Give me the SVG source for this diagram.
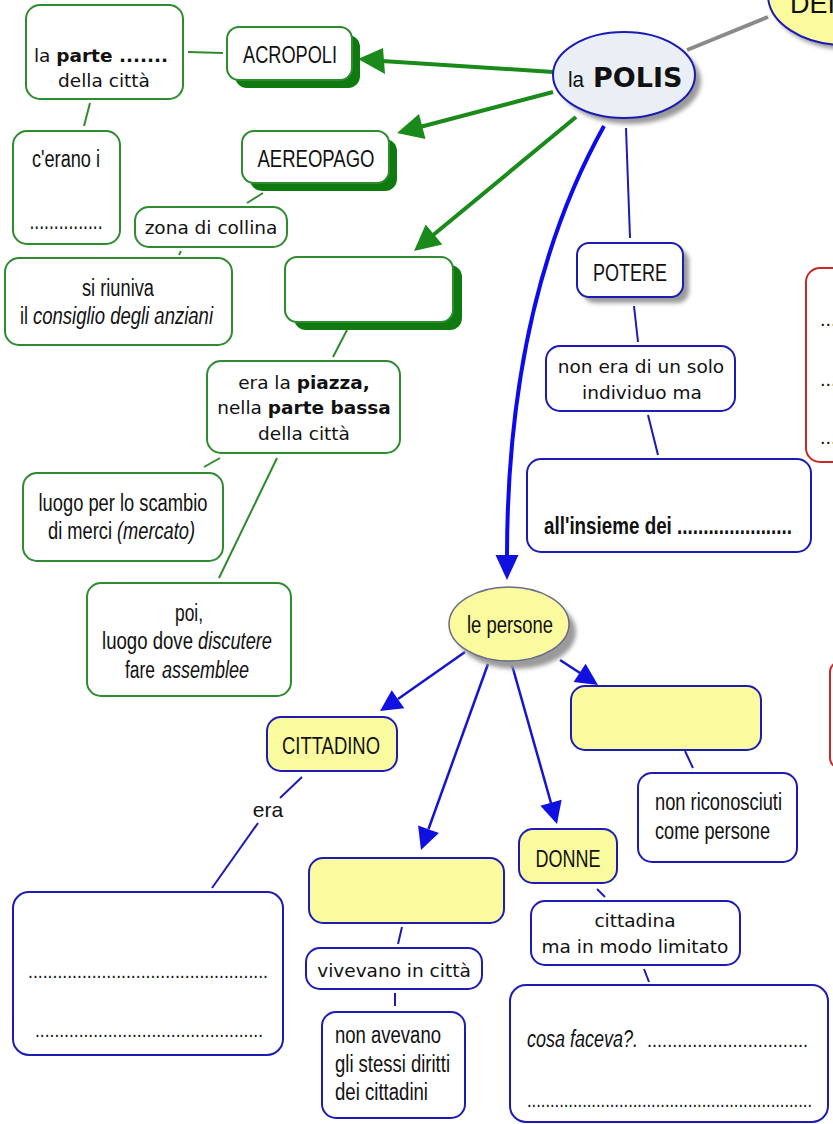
<svg xmlns="http://www.w3.org/2000/svg" width="833" height="1124" viewBox="0 0 833 1124">
<defs>
<style>
.gb{fill:#fff;stroke:#2e8b2e;stroke-width:2}
.bb{fill:#fff;stroke:#1c1cb4;stroke-width:2}
.yb{fill:#fafa9e;stroke:#1c1cb4;stroke-width:2}
.rb{fill:#fff;stroke:#c82828;stroke-width:2}
.gs{fill:#0f7a0f}
.sh{fill:#9a9a9a}
.n{font-family:"Liberation Sans",Arial,sans-serif;font-size:23px;fill:#111}
.i{font-style:italic}
.v{font-family:"DejaVu Sans",Verdana,sans-serif;font-size:18.5px;fill:#111}
.gl{stroke:#2e8b2e;stroke-width:2;fill:none}
.ga{stroke:#1a8a1a;stroke-width:4;fill:none}
.gh{fill:#1a8a1a}
.bl{stroke:#1c1cb4;stroke-width:2;fill:none}
.ba{stroke:#1515d0;stroke-width:2.5;fill:none}
.bh{fill:#1010e0}
</style>
<filter id="blur" x="-20%" y="-20%" width="140%" height="140%"><feGaussianBlur stdDeviation="2"/></filter>
</defs>

<g id="connectors">
<line x1="687" y1="50" x2="768" y2="17" stroke="#8a8a8a" stroke-width="4"/>
<line class="gl" x1="188" y1="52" x2="223" y2="53"/>
<line class="gl" x1="90" y1="103" x2="84" y2="126"/>
<line class="gl" x1="247" y1="203" x2="263" y2="193"/>
<line class="gl" x1="179" y1="255" x2="181" y2="251"/>
<line class="gl" x1="347" y1="330" x2="333" y2="357"/>
<line class="gl" x1="220" y1="458" x2="204" y2="467"/>
<line class="gl" x1="277" y1="458" x2="219" y2="578"/>
<line class="ga" x1="553" y1="72" x2="382" y2="61"/>
<polygon class="gh" points="358,59 383,48 385,74"/>
<line class="ga" x1="553" y1="92" x2="420" y2="127"/>
<polygon class="gh" points="397,133 419,114 425.5,139"/>
<line class="ga" x1="576" y1="117" x2="432" y2="236"/>
<polygon class="gh" points="414,251 425.7,224.4 442.3,244.4"/>
<line class="bl" x1="626" y1="128" x2="630" y2="238"/>
<line class="bl" x1="634" y1="306" x2="638" y2="342"/>
<line class="bl" x1="648" y1="415" x2="658" y2="455"/>
<path d="M604,126 Q507,300 507,557" stroke="#0b0bee" stroke-width="4" fill="none"/>
<polygon class="bh" points="507,580 495.5,555 518.5,555"/>
<line class="ba" x1="465" y1="652" x2="398" y2="699"/>
<polygon class="bh" points="380,711 391.7,690.3 404.3,708.3"/>
<line class="ba" x1="488" y1="664" x2="428.5" y2="829"/>
<polygon class="bh" points="421,850 418.1,825.6 438.9,833"/>
<line class="ba" x1="512" y1="665" x2="551" y2="803"/>
<polygon class="bh" points="557,824 540.4,805.8 561.6,799.8"/>
<line class="ba" x1="560" y1="660" x2="580" y2="673"/>
<polygon class="bh" points="598,685 573.6,682.1 585.6,663.7"/>
<line class="bl" x1="302" y1="777" x2="280" y2="798"/>
<line class="bl" x1="258" y1="823" x2="212" y2="888"/>
<text class="n" x="268" y="817" text-anchor="middle" style="font-size:21px">era</text>
<line class="bl" x1="402" y1="927" x2="398" y2="944"/>
<line class="bl" x1="395" y1="993" x2="395" y2="1006"/>
<line class="bl" x1="685" y1="751" x2="693" y2="768"/>
<line class="bl" x1="597" y1="889" x2="605" y2="897"/>
<line class="bl" x1="644" y1="969" x2="649" y2="982"/>
</g>

<g id="dei">
<ellipse class="sh" cx="849" cy="0" rx="77" ry="50" filter="url(#blur)"/>
<ellipse cx="845" cy="-5" rx="77" ry="50" fill="#fafa9e" stroke="#1c1cb4" stroke-width="2"/>
<text class="n" x="790" y="13" style="font-size:27px">DEI</text>
</g>

<g id="polis">
<ellipse class="sh" cx="630" cy="81" rx="71" ry="43" filter="url(#blur)"/>
<ellipse cx="624" cy="75" rx="71" ry="43" fill="#e9eff5" stroke="#1c1cb4" stroke-width="2"/>
<text x="568" y="87" style="font-family:'Liberation Sans',Arial,sans-serif;font-size:22px;fill:#111" textLength="16" lengthAdjust="spacingAndGlyphs">la</text>
<text x="593" y="87" style="font-family:'DejaVu Sans',Verdana,sans-serif;font-size:27px;font-weight:bold;fill:#111">POLIS</text>
</g>

<g id="acropoli">
<rect class="gs" x="235" y="35" width="125" height="53" rx="12"/>
<rect class="gb" x="227" y="27" width="125" height="53" rx="12"/>
<text class="n" x="290" y="63" text-anchor="middle" textLength="94" lengthAdjust="spacingAndGlyphs">ACROPOLI</text>
</g>

<g id="parte">
<rect class="gb" x="26" y="5" width="157" height="94" rx="14"/>
<text class="v" x="101" y="62" text-anchor="middle">la <tspan font-weight="bold">parte .......</tspan></text>
<text class="v" x="104" y="87" text-anchor="middle">della città</text>
</g>

<g id="cerano">
<rect class="gb" x="13" y="131" width="107" height="113" rx="14"/>
<text class="n" x="66" y="167" text-anchor="middle" textLength="68" lengthAdjust="spacingAndGlyphs">c'erano i</text>
<text class="n" x="66" y="229" text-anchor="middle" textLength="73" lengthAdjust="spacingAndGlyphs">...............</text>
</g>

<g id="aereopago">
<rect class="gs" x="250" y="139" width="147" height="52" rx="12"/>
<rect class="gb" x="242" y="131" width="147" height="52" rx="12"/>
<text class="n" x="316" y="167" text-anchor="middle" textLength="117" lengthAdjust="spacingAndGlyphs">AEREOPAGO</text>
</g>

<g id="collina">
<rect class="gb" x="135" y="207" width="152" height="40" rx="14"/>
<text class="v" x="211" y="234" text-anchor="middle">zona di collina</text>
</g>

<g id="riuniva">
<rect class="gb" x="5" y="258" width="227" height="87" rx="14"/>
<text class="n" x="118" y="296" text-anchor="middle" textLength="72" lengthAdjust="spacingAndGlyphs">si riuniva</text>
<text class="n" x="20" y="324" textLength="8" lengthAdjust="spacingAndGlyphs">il</text>
<text class="n i" x="33" y="324" textLength="180" lengthAdjust="spacingAndGlyphs">consiglio degli anziani</text>
</g>

<g id="agora">
<rect class="gs" x="294" y="265" width="168" height="65" rx="12"/>
<rect class="gb" x="285" y="257" width="168" height="65" rx="12"/>
</g>

<g id="piazza">
<rect class="gb" x="207" y="361" width="193" height="92" rx="14"/>
<text class="v" x="304" y="389" text-anchor="middle">era la <tspan font-weight="bold">piazza,</tspan></text>
<text class="v" x="304" y="414" text-anchor="middle">nella <tspan font-weight="bold">parte bassa</tspan></text>
<text class="v" x="304" y="440" text-anchor="middle">della città</text>
</g>

<g id="scambio">
<rect class="gb" x="23" y="473" width="200" height="88" rx="14"/>
<text class="n" x="123" y="511" text-anchor="middle" textLength="169" lengthAdjust="spacingAndGlyphs">luogo per lo scambio</text>
<text class="n" x="48" y="539" textLength="64" lengthAdjust="spacingAndGlyphs">di merci</text>
<text class="n i" x="117" y="539" textLength="78" lengthAdjust="spacingAndGlyphs">(mercato)</text>
</g>

<g id="poi">
<rect class="gb" x="87" y="583" width="204" height="113" rx="14"/>
<text class="n" x="189" y="621" text-anchor="middle" textLength="28" lengthAdjust="spacingAndGlyphs">poi,</text>
<text class="n" x="102" y="649" textLength="91" lengthAdjust="spacingAndGlyphs">luogo dove</text>
<text class="n i" x="198" y="649" textLength="74" lengthAdjust="spacingAndGlyphs">discutere</text>
<text class="n" x="125" y="678" textLength="30" lengthAdjust="spacingAndGlyphs">fare</text>
<text class="n i" x="162" y="678" textLength="87" lengthAdjust="spacingAndGlyphs">assemblee</text>
</g>

<g id="potere">
<rect class="sh" x="583" y="249" width="106" height="54" rx="12" filter="url(#blur)"/>
<rect class="bb" x="577" y="243" width="106" height="54" rx="12"/>
<text class="n" x="630" y="281" text-anchor="middle" textLength="74" lengthAdjust="spacingAndGlyphs">POTERE</text>
</g>

<g id="solo">
<rect class="bb" x="546" y="346" width="189" height="65" rx="14"/>
<text class="v" x="641" y="373" text-anchor="middle">non era di un solo</text>
<text class="v" x="642" y="399" text-anchor="middle">individuo ma</text>
</g>

<g id="insieme">
<rect class="bb" x="527" y="459" width="284" height="93" rx="14"/>
<text class="n" x="544" y="534" font-weight="bold" textLength="248" lengthAdjust="spacingAndGlyphs">all'insieme dei ......................</text>
</g>

<g id="red1">
<rect class="rb" x="806" y="268" width="60" height="194" rx="14"/>
<text class="n" x="820" y="326" style="font-size:20px">...</text>
<text class="n" x="820" y="386" style="font-size:20px">...</text>
<text class="n" x="820" y="444" style="font-size:20px">...</text>
</g>

<g id="red2">
<rect class="rb" x="830" y="662" width="30" height="106" rx="10"/>
</g>

<g id="persone">
<ellipse class="sh" cx="516" cy="632" rx="60" ry="37" filter="url(#blur)"/>
<ellipse cx="509" cy="624" rx="60" ry="37" fill="#fafa9e" stroke="#6a6a8a" stroke-width="1.5"/>
<text class="n" x="510" y="633" text-anchor="middle" textLength="86" lengthAdjust="spacingAndGlyphs">le persone</text>
</g>

<g id="cittadino">
<rect class="yb" x="267" y="717" width="130" height="54" rx="14"/>
<text class="n" x="331" y="754" text-anchor="middle" textLength="98" lengthAdjust="spacingAndGlyphs">CITTADINO</text>
</g>

<g id="era-box">
<rect class="bb" x="13" y="892" width="270" height="163" rx="16"/>
<text class="n" x="28" y="978" textLength="240" lengthAdjust="spacingAndGlyphs" style="font-size:20px">.................................................</text>
<text class="n" x="35" y="1037" textLength="228" lengthAdjust="spacingAndGlyphs" style="font-size:20px">...............................................</text>
</g>

<g id="stranieri">
<rect class="yb" x="309" y="858" width="195" height="65" rx="14"/>
</g>

<g id="vivevano">
<rect class="bb" x="306" y="948" width="176" height="41" rx="14"/>
<text class="v" x="394" y="977" text-anchor="middle">vivevano in città</text>
</g>

<g id="diritti">
<rect class="bb" x="322" y="1012" width="143" height="106" rx="14"/>
<text class="n" x="335" y="1043" textLength="106" lengthAdjust="spacingAndGlyphs">non avevano</text>
<text class="n" x="335" y="1072" textLength="115" lengthAdjust="spacingAndGlyphs">gli stessi diritti</text>
<text class="n" x="335" y="1100" textLength="93" lengthAdjust="spacingAndGlyphs">dei cittadini</text>
</g>

<g id="schiavi">
<rect class="yb" x="571" y="686" width="190" height="64" rx="14"/>
</g>

<g id="riconosciuti">
<rect class="bb" x="638" y="773" width="159" height="89" rx="14"/>
<text class="n" x="655" y="810" textLength="127" lengthAdjust="spacingAndGlyphs">non riconosciuti</text>
<text class="n" x="655" y="839" textLength="115" lengthAdjust="spacingAndGlyphs">come persone</text>
</g>

<g id="donne">
<rect class="yb" x="519" y="829" width="98" height="54" rx="14"/>
<text class="n" x="568" y="867" text-anchor="middle" textLength="65" lengthAdjust="spacingAndGlyphs">DONNE</text>
</g>

<g id="cittadina">
<rect class="bb" x="531" y="901" width="209" height="64" rx="14"/>
<text class="v" x="635" y="927" text-anchor="middle">cittadina</text>
<text class="v" x="635" y="953" text-anchor="middle">ma in modo limitato</text>
</g>

<g id="faceva">
<rect class="bb" x="510" y="985" width="318" height="137" rx="16"/>
<text class="n i" x="527" y="1047" textLength="111" lengthAdjust="spacingAndGlyphs">cosa faceva?.</text>
<text class="n" x="647" y="1047" textLength="161" lengthAdjust="spacingAndGlyphs" style="font-size:20px">................................</text>
<text class="n" x="527" y="1107" textLength="285" lengthAdjust="spacingAndGlyphs" style="font-size:20px">..............................................................</text>
</g>
</svg>
